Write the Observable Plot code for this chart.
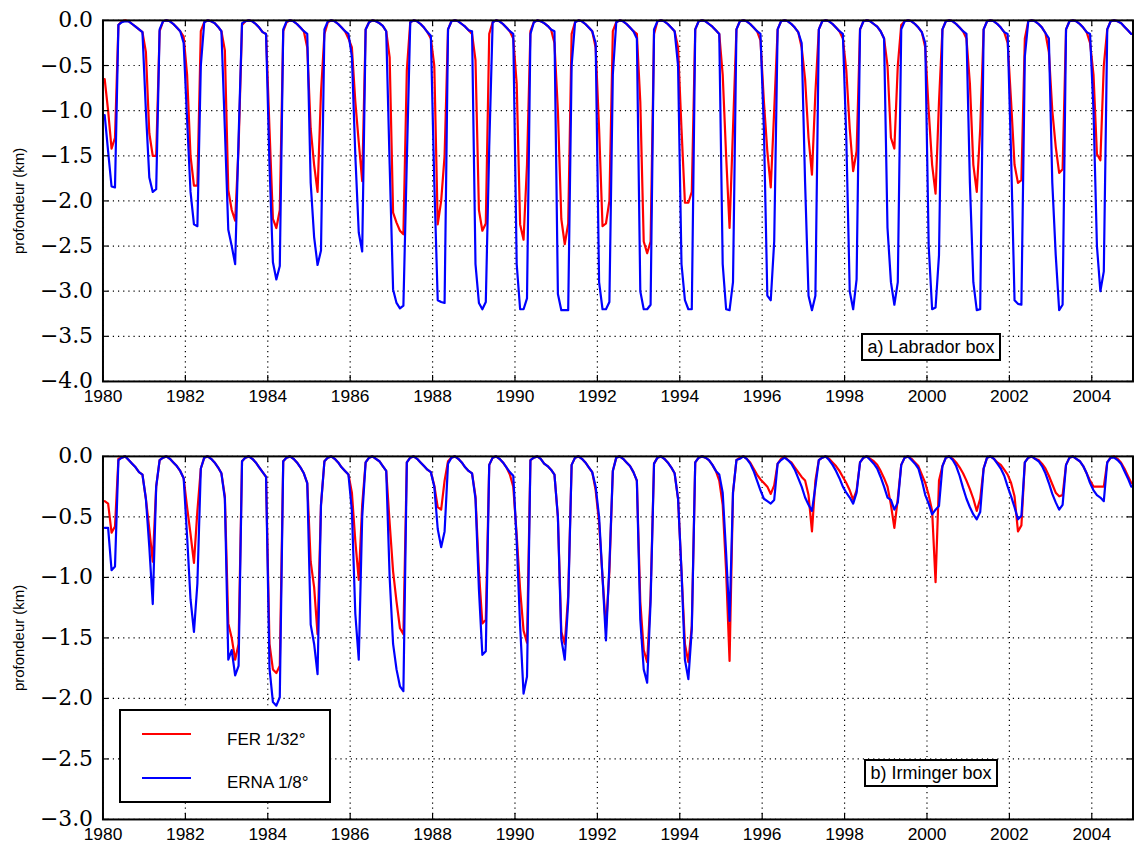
<!DOCTYPE html>
<html><head><meta charset="utf-8">
<script src="https://cdn.jsdelivr.net/npm/d3@7"></script>
<script src="https://cdn.jsdelivr.net/npm/@observablehq/plot@0.6"></script>
<style>
html,body{margin:0;padding:0;background:#fff;overflow:hidden;width:1134px;height:849px;}
#wrap{position:relative;width:1134px;height:849px;overflow:hidden;background:#fff;}
.panel{position:absolute;left:0;}
.note{position:absolute;border:2px solid #000;background:#fff;font:18px "Liberation Sans",Arial,sans-serif;display:flex;align-items:center;justify-content:center;box-sizing:border-box;color:#000;}
#legend{position:absolute;left:119px;top:709px;width:212px;height:94px;border:2px solid #000;background:#fff;box-sizing:border-box;font:17px "Liberation Sans",Arial,sans-serif;}
.lg-line{position:absolute;left:21px;width:49px;height:2px;}
.lg-text{position:absolute;left:106px;line-height:20px;}
svg text.serif-tick{font-family:"DejaVu Serif","Liberation Serif",serif !important;}
</style>
</head><body>
<div id="wrap">
  <div id="p1" class="panel" style="top:0px"></div>
  <div id="p2" class="panel" style="top:436px"></div>
  <div class="note" style="left:861px;top:333px;width:140px;height:28px;">a) Labrador box</div>
  <div class="note" style="left:864px;top:759px;width:134px;height:28px;">b) Irminger box</div>
  <div id="legend">
    <div class="lg-line" style="top:22px;background:#ff0000"></div>
    <div class="lg-text" style="top:19px">FER 1/32°</div>
    <div class="lg-line" style="top:66px;background:#0000ff"></div>
    <div class="lg-text" style="top:62px">ERNA 1/8°</div>
  </div>
</div>
<script>
// ---- data (monthly values, Jan..Dec, depth in km) ----
const years = [1980,1981,1982,1983,1984,1985,1986,1987,1988,1989,1990,1991,1992,1993,1994,1995,1996,1997,1998,1999,2000,2001,2002,2003,2004];
const seriesNames = ["FER 1/32°", "ERNA 1/8°"];
const xTicks = [1980,1982,1984,1986,1988,1990,1992,1994,1996,1998,2000,2002,2004];
const yTicksLab = [0,-0.5,-1,-1.5,-2,-2.5,-3,-3.5,-4];
const yTicksIrm = [0,-0.5,-1,-1.5,-2,-2.5,-3];
const yLabel = "profondeur (km)";

const labFER = [
[-0.65,-1.00,-1.42,-1.30,-0.05,-0.01,0,-0.01,-0.04,-0.07,-0.10,-0.13],
[-0.35,-1.25,-1.50,-1.50,-0.12,-0.01,0,-0.01,-0.04,-0.08,-0.12,-0.18],
[-0.60,-1.50,-1.83,-1.83,-0.12,-0.02,0,-0.01,-0.03,-0.07,-0.12,-0.33],
[-1.88,-2.10,-2.22,-1.40,-0.05,-0.01,0,-0.01,-0.04,-0.08,-0.13,-0.15],
[-1.20,-2.20,-2.30,-2.10,-0.12,-0.02,0,-0.01,-0.04,-0.08,-0.12,-0.30],
[-1.20,-1.60,-1.90,-0.80,-0.15,-0.02,0,-0.01,-0.04,-0.08,-0.12,-0.20],
[-0.30,-0.90,-1.35,-1.78,-0.10,-0.02,0,-0.01,-0.03,-0.06,-0.12,-0.41],
[-2.13,-2.24,-2.33,-2.37,-0.55,-0.02,0,-0.01,-0.04,-0.08,-0.13,-0.20],
[-0.50,-2.26,-2.00,-1.50,-0.10,-0.01,0,-0.01,-0.04,-0.07,-0.11,-0.15],
[-0.44,-2.10,-2.33,-2.25,-0.15,-0.02,0,-0.01,-0.04,-0.08,-0.12,-0.20],
[-0.70,-2.26,-2.43,-1.60,-0.12,-0.02,0,-0.01,-0.03,-0.06,-0.10,-0.25],
[-1.00,-2.20,-2.48,-2.25,-0.15,-0.02,0,-0.01,-0.04,-0.08,-0.12,-0.30],
[-1.20,-2.28,-2.25,-2.00,-0.12,-0.02,0,-0.01,-0.04,-0.08,-0.12,-0.15],
[-0.90,-2.45,-2.58,-2.45,-0.15,-0.01,0,-0.01,-0.04,-0.08,-0.12,-0.30],
[-1.20,-2.02,-2.02,-1.90,-0.10,-0.01,0,-0.01,-0.04,-0.07,-0.11,-0.15],
[-0.60,-1.50,-2.30,-1.20,-0.10,-0.01,0,-0.01,-0.04,-0.08,-0.12,-0.22],
[-0.90,-1.45,-1.85,-1.00,-0.10,-0.01,0,-0.01,-0.04,-0.08,-0.13,-0.30],
[-0.65,-1.30,-1.71,-0.80,-0.10,-0.01,0,-0.01,-0.04,-0.08,-0.12,-0.20],
[-0.55,-1.20,-1.67,-1.45,-0.10,-0.01,0,-0.01,-0.04,-0.07,-0.12,-0.20],
[-0.50,-1.30,-1.42,-0.50,-0.05,-0.01,0,-0.01,-0.04,-0.08,-0.13,-0.30],
[-1.00,-1.60,-1.92,-0.90,-0.10,-0.01,0,-0.01,-0.04,-0.08,-0.12,-0.20],
[-0.70,-1.60,-1.90,-1.20,-0.10,-0.01,0,-0.01,-0.04,-0.08,-0.13,-0.25],
[-0.90,-1.60,-1.80,-1.77,-0.20,-0.01,0,-0.01,-0.04,-0.08,-0.14,-0.35],
[-1.00,-1.40,-1.69,-1.65,-0.10,-0.01,0,-0.01,-0.04,-0.08,-0.13,-0.25],
[-0.60,-1.48,-1.55,-0.50,-0.10,-0.01,0,-0.01,-0.03,-0.07,-0.11,-0.15]
];

const labERNA = [
[-1.05,-1.45,-1.84,-1.85,-0.05,-0.02,-0.01,-0.01,-0.04,-0.07,-0.10,-0.13],
[-1.00,-1.74,-1.90,-1.87,-0.10,-0.01,0,-0.01,-0.04,-0.08,-0.12,-0.25],
[-1.10,-1.90,-2.26,-2.28,-0.50,-0.02,0,-0.01,-0.03,-0.07,-0.12,-1.20],
[-2.32,-2.50,-2.70,-1.30,-0.03,-0.01,0,-0.01,-0.04,-0.08,-0.13,-0.15],
[-1.60,-2.68,-2.87,-2.72,-0.10,-0.01,0,-0.01,-0.04,-0.08,-0.12,-0.15],
[-1.80,-2.40,-2.71,-2.55,-0.10,-0.01,0,-0.01,-0.04,-0.08,-0.12,-0.15],
[-0.40,-1.50,-2.35,-2.56,-0.10,-0.02,0,-0.01,-0.03,-0.06,-0.12,-1.60],
[-2.98,-3.13,-3.19,-3.16,-1.55,-0.02,0,-0.01,-0.04,-0.08,-0.13,-0.17],
[-1.80,-3.10,-3.12,-3.13,-0.10,-0.01,0,-0.01,-0.04,-0.07,-0.11,-0.12],
[-2.70,-3.13,-3.20,-3.12,-1.40,-0.02,0,-0.01,-0.04,-0.08,-0.12,-0.15],
[-2.70,-3.20,-3.20,-3.08,-0.15,-0.02,0,-0.01,-0.03,-0.06,-0.10,-0.12],
[-3.03,-3.21,-3.21,-3.21,-0.50,-0.02,0,-0.01,-0.04,-0.08,-0.12,-0.25],
[-2.90,-3.20,-3.20,-3.12,-0.60,-0.02,0,-0.01,-0.04,-0.08,-0.12,-0.20],
[-3.00,-3.20,-3.20,-3.15,-0.10,-0.01,0,-0.01,-0.04,-0.08,-0.12,-0.50],
[-2.70,-3.10,-3.20,-3.20,-0.10,-0.01,0,-0.01,-0.04,-0.07,-0.11,-0.15],
[-2.70,-3.20,-3.21,-2.90,-0.10,-0.01,0,-0.01,-0.04,-0.08,-0.12,-0.15],
[-1.20,-3.05,-3.10,-2.45,-0.10,-0.01,0,-0.01,-0.04,-0.08,-0.13,-0.25],
[-1.80,-3.05,-3.21,-3.05,-0.10,-0.01,0,-0.01,-0.04,-0.08,-0.12,-0.15],
[-1.30,-3.00,-3.20,-2.87,-0.10,-0.01,0,-0.01,-0.04,-0.07,-0.12,-0.20],
[-2.30,-2.90,-3.15,-2.90,-0.10,-0.01,0,-0.01,-0.04,-0.08,-0.13,-0.25],
[-2.50,-3.20,-3.18,-2.60,-0.10,-0.01,0,-0.01,-0.04,-0.08,-0.12,-0.15],
[-1.80,-2.90,-3.21,-3.20,-0.10,-0.01,0,-0.01,-0.04,-0.08,-0.13,-0.15],
[-1.50,-3.10,-3.14,-3.15,-0.40,-0.01,0,-0.01,-0.04,-0.08,-0.14,-0.20],
[-1.80,-2.60,-3.21,-3.15,-0.10,-0.01,0,-0.01,-0.04,-0.08,-0.13,-0.15],
[-1.00,-2.50,-3.00,-2.78,-0.10,-0.01,0,-0.01,-0.03,-0.07,-0.11,-0.15]
];

const irmFER = [
[-0.37,-0.39,-0.63,-0.58,-0.02,-0.01,0,-0.03,-0.06,-0.09,-0.13,-0.15],
[-0.35,-0.60,-0.87,-0.25,-0.03,-0.01,0,-0.02,-0.05,-0.08,-0.12,-0.18],
[-0.42,-0.64,-0.88,-0.45,-0.10,-0.01,0,-0.02,-0.05,-0.09,-0.14,-0.33],
[-1.38,-1.50,-1.68,-1.55,-0.04,-0.01,0,-0.02,-0.05,-0.09,-0.13,-0.17],
[-1.55,-1.76,-1.79,-1.73,-0.04,-0.01,0,-0.02,-0.05,-0.09,-0.14,-0.22],
[-0.87,-1.08,-1.47,-0.40,-0.04,-0.01,0,-0.02,-0.05,-0.09,-0.12,-0.15],
[-0.30,-0.70,-1.02,-0.40,-0.05,-0.01,0,-0.02,-0.04,-0.08,-0.12,-0.55],
[-0.95,-1.20,-1.42,-1.47,-0.05,-0.01,0,-0.02,-0.05,-0.08,-0.11,-0.13],
[-0.24,-0.42,-0.44,-0.20,-0.04,-0.01,0,-0.02,-0.05,-0.09,-0.12,-0.14],
[-0.33,-0.95,-1.38,-1.35,-0.07,-0.01,0,-0.02,-0.05,-0.09,-0.15,-0.25],
[-0.65,-1.10,-1.44,-1.54,-0.03,-0.01,0,-0.02,-0.06,-0.08,-0.11,-0.15],
[-0.50,-1.45,-1.55,-1.15,-0.07,-0.01,0,-0.02,-0.05,-0.09,-0.13,-0.28],
[-0.55,-1.00,-1.42,-0.95,-0.12,-0.01,0,-0.02,-0.05,-0.08,-0.13,-0.20],
[-1.20,-1.60,-1.70,-1.15,-0.06,-0.01,0,-0.02,-0.05,-0.09,-0.14,-0.35],
[-0.95,-1.55,-1.70,-1.40,-0.05,-0.01,0,-0.01,-0.03,-0.07,-0.12,-0.20],
[-0.40,-0.95,-1.69,-0.30,-0.03,-0.01,0,-0.02,-0.05,-0.10,-0.15,-0.19],
[-0.22,-0.25,-0.31,-0.24,-0.06,-0.02,0,-0.03,-0.05,-0.09,-0.13,-0.17],
[-0.20,-0.32,-0.62,-0.20,-0.03,-0.01,0,-0.02,-0.05,-0.08,-0.12,-0.17],
[-0.22,-0.28,-0.36,-0.28,-0.05,-0.01,0,-0.02,-0.04,-0.07,-0.12,-0.18],
[-0.25,-0.40,-0.59,-0.35,-0.07,-0.01,0,-0.02,-0.05,-0.08,-0.15,-0.22],
[-0.32,-0.45,-1.04,-0.20,-0.08,-0.01,0,-0.02,-0.05,-0.09,-0.14,-0.20],
[-0.27,-0.35,-0.45,-0.35,-0.10,-0.01,0,-0.02,-0.05,-0.07,-0.11,-0.15],
[-0.22,-0.33,-0.62,-0.57,-0.05,-0.01,0,-0.02,-0.03,-0.06,-0.10,-0.16],
[-0.23,-0.30,-0.33,-0.32,-0.07,-0.01,0,-0.02,-0.04,-0.08,-0.14,-0.20],
[-0.25,-0.25,-0.25,-0.25,-0.05,-0.01,0,-0.02,-0.05,-0.10,-0.16,-0.22]
];

const irmERNA = [
[-0.59,-0.59,-0.94,-0.91,-0.03,-0.01,0,-0.03,-0.06,-0.09,-0.13,-0.15],
[-0.35,-0.75,-1.22,-0.25,-0.03,-0.01,0,-0.02,-0.05,-0.08,-0.12,-0.18],
[-0.66,-1.18,-1.45,-1.05,-0.10,-0.01,0,-0.02,-0.05,-0.09,-0.14,-0.35],
[-1.68,-1.60,-1.81,-1.73,-0.04,-0.01,0,-0.02,-0.05,-0.09,-0.13,-0.17],
[-1.75,-2.03,-2.06,-1.99,-0.04,-0.01,0,-0.02,-0.05,-0.09,-0.14,-0.22],
[-1.39,-1.55,-1.80,-0.40,-0.04,-0.01,0,-0.02,-0.05,-0.09,-0.12,-0.15],
[-0.45,-1.30,-1.68,-0.50,-0.05,-0.01,0,-0.02,-0.04,-0.08,-0.12,-1.00],
[-1.55,-1.76,-1.90,-1.94,-0.05,-0.01,0,-0.02,-0.05,-0.08,-0.11,-0.13],
[-0.25,-0.60,-0.75,-0.62,-0.06,-0.01,0,-0.02,-0.05,-0.09,-0.12,-0.14],
[-0.35,-1.10,-1.64,-1.61,-0.07,-0.01,0,-0.02,-0.05,-0.09,-0.13,-0.16],
[-0.70,-1.40,-1.96,-1.82,-0.03,-0.01,0,-0.02,-0.06,-0.08,-0.11,-0.15],
[-0.50,-1.51,-1.68,-1.20,-0.07,-0.01,0,-0.02,-0.05,-0.09,-0.13,-0.25],
[-0.50,-1.00,-1.52,-0.90,-0.12,-0.01,0,-0.02,-0.05,-0.08,-0.13,-0.20],
[-1.35,-1.76,-1.87,-1.20,-0.06,-0.01,0,-0.02,-0.05,-0.09,-0.14,-0.35],
[-0.95,-1.68,-1.84,-1.43,-0.05,-0.01,0,-0.01,-0.03,-0.07,-0.12,-0.15],
[-0.30,-0.80,-1.36,-0.30,-0.03,-0.02,0,-0.02,-0.06,-0.12,-0.20,-0.28],
[-0.35,-0.37,-0.39,-0.36,-0.06,-0.03,-0.01,-0.03,-0.06,-0.11,-0.18,-0.25],
[-0.34,-0.40,-0.45,-0.25,-0.03,-0.01,0,-0.03,-0.07,-0.12,-0.18,-0.25],
[-0.30,-0.34,-0.39,-0.30,-0.05,-0.01,0,-0.03,-0.06,-0.10,-0.17,-0.25],
[-0.34,-0.36,-0.44,-0.38,-0.07,-0.01,0,-0.03,-0.06,-0.10,-0.20,-0.32],
[-0.39,-0.48,-0.44,-0.41,-0.08,-0.01,0,-0.03,-0.08,-0.16,-0.26,-0.35],
[-0.42,-0.48,-0.52,-0.46,-0.10,-0.01,0,-0.02,-0.06,-0.10,-0.16,-0.25],
[-0.33,-0.42,-0.52,-0.49,-0.05,-0.01,0,-0.02,-0.04,-0.08,-0.14,-0.22],
[-0.31,-0.38,-0.44,-0.40,-0.07,-0.01,0,-0.02,-0.04,-0.08,-0.14,-0.22],
[-0.28,-0.32,-0.34,-0.37,-0.05,-0.01,-0.01,-0.03,-0.06,-0.12,-0.18,-0.25]
];

// ---- build long tables ----
function longTable(matrix, series) {
  const out = [];
  matrix.forEach((row, i) => row.forEach((v, m) => out.push({t: years[i] + (m + 0.5) / 12, v, series})));
  return out;
}
const labData = longTable(labFER, seriesNames[0]).concat(longTable(labERNA, seriesNames[1]));
const irmData = longTable(irmFER, seriesNames[0]).concat(longTable(irmERNA, seriesNames[1]));

const fmtY = d => (d < 0 ? "\u2212" : "") + Math.abs(d).toFixed(1);
const serifFont = '"DejaVu Serif", "Liberation Serif", serif';

function panel(data, yDomain, yTicks, height, marginBottom) {
  const W = 1140, ML = 103, MR = 1.5, MT = 20;
  const innerW = W - ML - MR, innerH = height - MT - marginBottom;
  const tick = 6;
  const svg = Plot.plot({
    width: W, height, marginLeft: ML, marginRight: MR, marginTop: MT, marginBottom,
    style: {fontSize: "17.5px", background: "white", color: "#000"},
    x: {domain: [1980, 2005]},
    y: {domain: yDomain, axis: null},
    color: {domain: seriesNames, range: ["#ff0000", "#0000ff"]},
    marks: [
      Plot.ruleX(xTicks, {x: d => d, stroke: "#000", strokeWidth: 1.2, strokeDasharray: "1.2,4"}),
      Plot.ruleY(yTicks, {y: d => d, stroke: "#000", strokeWidth: 1.2, strokeDasharray: "1.2,4"}),
      Plot.line(data, {x: "t", y: "v", z: "series", stroke: "series", strokeWidth: 2.2}),
      Plot.ruleX(xTicks, {x: d => d, insetTop: innerH - tick, stroke: "#000", strokeWidth: 1.2}),
      Plot.ruleX(xTicks, {x: d => d, insetBottom: innerH - tick, stroke: "#000", strokeWidth: 1.2}),
      Plot.ruleY(yTicks, {y: d => d, insetRight: innerW - tick, stroke: "#000", strokeWidth: 1.2}),
      Plot.ruleY(yTicks, {y: d => d, insetLeft: innerW - tick, stroke: "#000", strokeWidth: 1.2}),
      Plot.frame({stroke: "#000", strokeWidth: 2}),
      Plot.axisX({ticks: xTicks, tickSize: 0, tickPadding: 8, tickFormat: d => String(d), label: null, fontSize: 17.5, fontFamily: '"Liberation Sans", Arial, sans-serif'}),
      Plot.text(yTicks, {y: d => d, text: fmtY, frameAnchor: "left", dx: -10, textAnchor: "end", lineAnchor: "middle", fontFamily: serifFont, fontSize: 22, fill: "#000"}),
      Plot.text([yLabel], {text: d => d, frameAnchor: "left", dx: -84, rotate: -90, textAnchor: "middle", lineAnchor: "middle", fontSize: 15, fill: "#000", fontFamily: '"Liberation Sans", Arial, sans-serif'})
    ]
  });
  svg.querySelectorAll("text").forEach(t => {
    if (/^\u2212?\d\.\d$/.test(t.textContent.trim())) {
      t.setAttribute("class", "serif-tick");
      t.setAttribute("font-family", serifFont);
      t.style.setProperty("font-family", serifFont, "important");
    }
  });
  return svg;
}

document.getElementById("p1").appendChild(panel(labData, [-4, 0], yTicksLab, 413, 30));
document.getElementById("p2").appendChild(panel(irmData, [-3, 0], yTicksIrm, 413, 28));
</script>
</body></html>
